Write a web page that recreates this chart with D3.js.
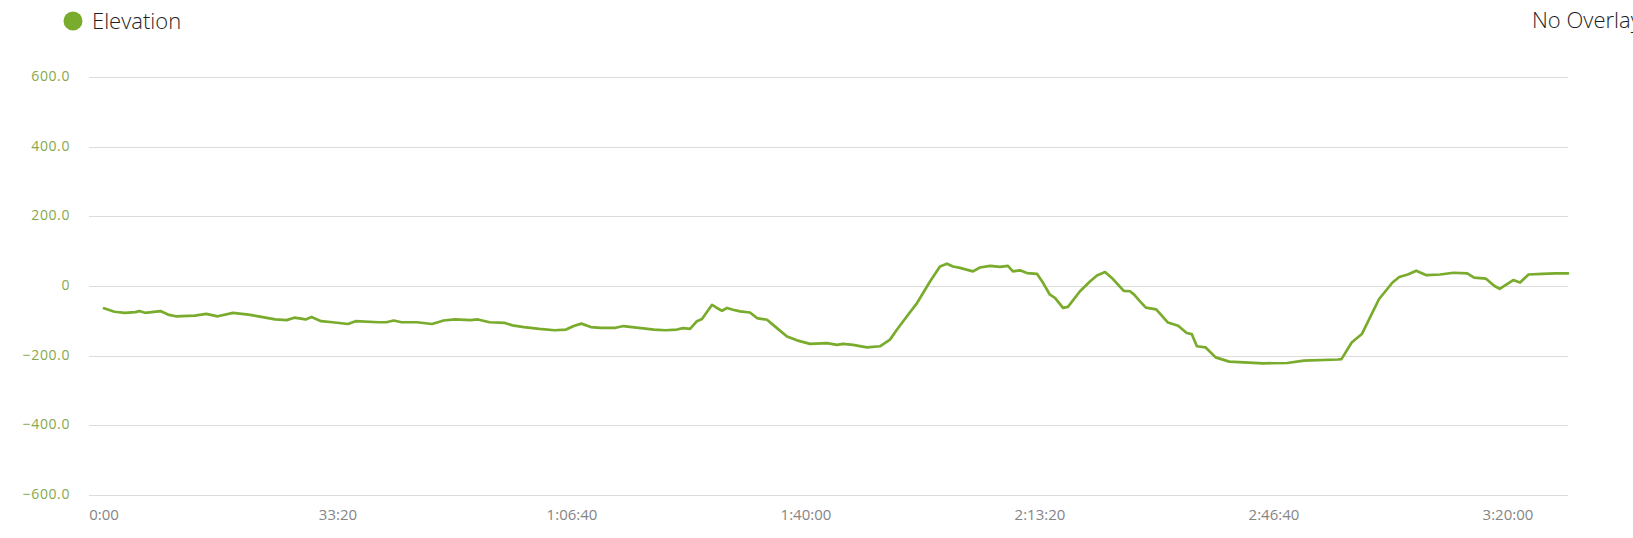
<!DOCTYPE html>
<html>
<head>
<meta charset="utf-8">
<script src="https://cdn.jsdelivr.net/npm/d3@7"></script>
<style>
  html, body { margin: 0; padding: 0; background: #fff; overflow: hidden; }
  svg { display: block; }
</style>
</head>
<body>
<svg id="chart" width="1633" height="538"></svg>
<script>
// ---- data (seconds from start, elevation) ----
const seriesName = "Elevation";
const overlayLabel = "No Overlay";
const times = [0,89,179,268,302,351,482,547,613,776,874,972,1103,1234,1332,1463,1561,1627,1724,1774,1855,1954,2085,2150,2346,2412,2477,2543,2674,2804,2903,3000,3132,3197,3295,3426,3491,3589,3720,3851,3949,4015,4080,4161,4244,4374,4440,4570,4701,4799,4897,4949,5009,5068,5111,5197,5239,5282,5325,5376,5436,5521,5581,5667,5752,5838,5923,6034,6179,6265,6316,6402,6521,6632,6718,6778,6863,6949,7060,7145,7205,7256,7316,7427,7487,7573,7658,7726,7769,7829,7889,7974,8026,8085,8128,8197,8239,8342,8427,8487,8556,8624,8716,8769,8803,8855,8905,8993,9094,9181,9254,9297,9341,9414,9501,9618,9908,10112,10257,10548,10577,10664,10751,10897,11013,11071,11144,11216,11303,11420,11536,11652,11710,11812,11885,11929,12045,12103,12176,12292,12408,12513];
const elevation = [-64,-74,-77,-75,-72,-77,-72,-82,-87,-85,-80,-87,-77,-82,-88,-96,-98,-91,-96,-89,-101,-104,-109,-101,-104,-104,-99,-104,-104,-109,-99,-96,-98,-96,-104,-106,-113,-118,-123,-127,-125,-115,-108,-118,-120,-120,-115,-120,-125,-127,-125,-121,-123,-101,-95,-54,-63,-71,-63,-68,-73,-76,-92,-97,-121,-145,-156,-166,-164,-169,-166,-169,-176,-173,-154,-125,-87,-49,13,56,64,56,52,42,53,58,55,58,42,45,37,35,9,-25,-34,-63,-60,-15,13,30,40,20,-14,-15,-24,-44,-62,-67,-105,-114,-135,-138,-173,-176,-205,-217,-222,-221,-214,-211,-210,-162,-138,-38,10,26,33,44,31,33,38,36,24,21,0,-8,17,10,33,35,36,36];
const xTicks = [0,2000,4000,6000,8000,10000,12000];
const xTickLabels = ["0:00","33:20","1:06:40","1:40:00","2:13:20","2:46:40","3:20:00"];
const yTicks = [600,400,200,0,-200,-400,-600];
const yTickLabels = ["600.0","400.0","200.0","0","\u2212200.0","\u2212400.0","\u2212600.0"];

const data = times.map((t, i) => ({ t, v: elevation[i] }));

const svg = d3.select("#chart");
const lineColor = "#79ab2c";

const x = d3.scaleLinear().domain([0, d3.max(times)]).range([104, 1568]);
const y = d3.scaleLinear().domain([-600, 600]).range([495, 77]);
const gridLeft = 89, gridRight = 1568;

// gridlines
svg.append("g").selectAll("line").data(yTicks).join("line")
  .attr("x1", gridLeft).attr("x2", gridRight)
  .attr("y1", d => Math.round(y(d)) + 0.5).attr("y2", d => Math.round(y(d)) + 0.5)
  .attr("stroke", "#dcdcdc").attr("stroke-width", 1);

// y labels
svg.append("g").selectAll("text").data(yTicks).join("text")
  .attr("x", 70).attr("y", d => y(d) + 4)
  .attr("text-anchor", "end")
  .attr("font-family", "'Open Sans', sans-serif")
  .attr("font-size", 14).attr("letter-spacing", "0.6px")
  .attr("fill", "#86a84c")
  .text((d, i) => yTickLabels[i]);

// x labels
svg.append("g").selectAll("text").data(xTicks).join("text")
  .attr("x", d => x(d)).attr("y", 520)
  .attr("text-anchor", "middle")
  .attr("font-family", "'Open Sans', sans-serif")
  .attr("font-size", 15)
  .attr("fill", "#858585")
  .text((d, i) => xTickLabels[i]);

// line
const line = d3.line().x(d => x(d.t)).y(d => y(d.v));
svg.append("path").datum(data)
  .attr("d", line)
  .attr("fill", "none")
  .attr("stroke", lineColor)
  .attr("stroke-width", 2.7)
  .attr("stroke-linejoin", "round")
  .attr("stroke-linecap", "round");

// legend
svg.append("circle").attr("cx", 73).attr("cy", 21).attr("r", 9.5).attr("fill", lineColor);
svg.append("text").attr("x", 92).attr("y", 29)
  .attr("font-family", "'Open Sans', sans-serif").attr("font-weight", 300)
  .attr("font-size", 22).attr("fill", "#1e1e1e").text(seriesName);
svg.append("text").attr("x", 1532).attr("y", 28)
  .attr("font-family", "'Open Sans', sans-serif").attr("font-weight", 300)
  .attr("font-size", 22).attr("fill", "#1e1e1e").text(overlayLabel);
</script>
</body>
</html>
